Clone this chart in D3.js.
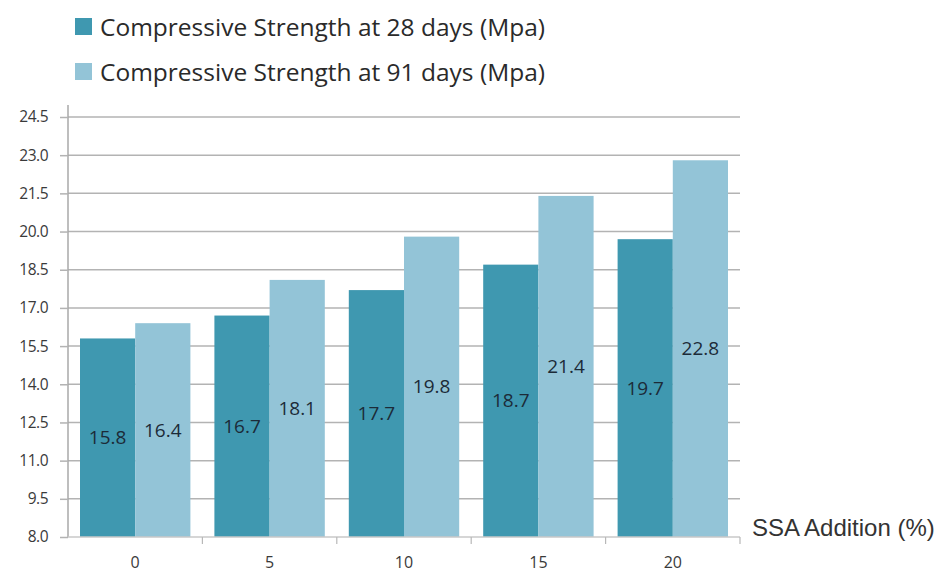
<!DOCTYPE html>
<html>
<head>
<meta charset="utf-8">
<script src="https://cdn.jsdelivr.net/npm/d3@7"></script>
<style>
  html, body { margin: 0; padding: 0; background: #fff; }
  svg { display: block; }
</style>
</head>
<body>
<svg id="chart" width="941" height="572"></svg>
<script>
// SSA addition levels and measured compressive strengths
const categories = ["0", "5", "10", "15", "20"];
const seriesNames = ["Compressive Strength at 28 days (Mpa)", "Compressive Strength at 91 days (Mpa)"];
const strength28 = [15.8, 16.7, 17.7, 18.7, 19.7];
const strength91 = [16.4, 18.1, 19.8, 21.4, 22.8];
const yTicks = [8.0, 9.5, 11.0, 12.5, 14.0, 15.5, 17.0, 18.5, 20.0, 21.5, 23.0, 24.5];
const colors = ["#3f98b0", "#93c4d7"];

const svg = d3.select("#chart");
const plot = { left: 68, right: 740, top: 117, bottom: 537 };

const x = d3.scaleBand().domain(categories).range([plot.left, plot.right]).paddingInner(0).paddingOuter(0);
const xInner = d3.scaleBand().domain([0, 1]).range([12, x.bandwidth() - 12]).padding(0);
const y = d3.scaleLinear().domain([8, 24.5]).range([plot.bottom, plot.top]);

// horizontal gridlines
svg.append("g")
  .selectAll("line")
  .data(yTicks.slice(1))
  .join("line")
  .attr("x1", plot.left)
  .attr("x2", plot.right)
  .attr("y1", d => y(d))
  .attr("y2", d => y(d))
  .attr("stroke", "#b3b3b3")
  .attr("stroke-width", 1.5);

// bars
const data = categories.map((c, i) => ({ c, vals: [strength28[i], strength91[i]] }));
const groups = svg.append("g")
  .selectAll("g")
  .data(data)
  .join("g")
  .attr("transform", d => `translate(${x(d.c)},0)`);

groups.selectAll("rect")
  .data(d => d.vals.map((v, k) => ({ v, k })))
  .join("rect")
  .attr("x", d => xInner(d.k))
  .attr("width", xInner.bandwidth())
  .attr("y", d => y(d.v))
  .attr("height", d => y(8) - y(d.v))
  .attr("fill", d => colors[d.k]);

groups.selectAll("text")
  .data(d => d.vals.map((v, k) => ({ v, k })))
  .join("text")
  .attr("x", d => xInner(d.k) + xInner.bandwidth() / 2)
  .attr("y", d => (y(d.v) + y(8)) / 2)
  .attr("dy", "0.35em")
  .attr("text-anchor", "middle")
  .attr("font-family", "'Open Sans', sans-serif")
  .attr("font-size", 19)
  .attr("fill", "#1c2b38")
  .text(d => d.v.toFixed(1));

// y axis
const yAxis = svg.append("g")
  .attr("transform", `translate(${plot.left},0)`)
  .call(d3.axisLeft(y).tickValues(yTicks).tickFormat(d3.format(".1f")).tickSize(8).tickPadding(12));
yAxis.select(".domain").attr("stroke", "#a8a8a8").attr("stroke-width", 1.5)
  .attr("d", `M0,${plot.bottom}V${plot.top - 12}`);
yAxis.selectAll(".tick line").attr("stroke", "#b3b3b3").attr("stroke-width", 1.5);
yAxis.selectAll(".tick text")
  .attr("font-family", "'Open Sans', sans-serif")
  .attr("font-size", 15.5)
  .attr("letter-spacing", "-0.5px")
  .attr("fill", "#3a3a3a");

// x axis
const xAxis = svg.append("g")
  .attr("transform", `translate(0,${plot.bottom})`)
  .call(d3.axisBottom(x).tickSize(0).tickPadding(20));
xAxis.select(".domain").attr("stroke", "#c8c8c8").attr("stroke-width", 1.5)
  .attr("d", `M${plot.left},0H${plot.right}`);
xAxis.selectAll(".tick text")
  .attr("font-family", "'Open Sans', sans-serif")
  .attr("font-size", 16)
  .attr("fill", "#3a3a3a");
// category boundary ticks
svg.append("g")
  .selectAll("line")
  .data(categories.slice(1).concat(["end"]))
  .join("line")
  .attr("x1", (d, i) => plot.left + x.step() * (i + 1))
  .attr("x2", (d, i) => plot.left + x.step() * (i + 1))
  .attr("y1", plot.bottom)
  .attr("y2", plot.bottom + 7)
  .attr("stroke", "#b8b8b8")
  .attr("stroke-width", 1.2);

// x axis title
svg.append("text")
  .attr("x", 752)
  .attr("y", 536)
  .attr("font-family", "'Liberation Sans', Arial, sans-serif")
  .attr("font-size", 24)
  .attr("fill", "#333")
  .text("SSA Addition (%)");

// legend
const legend = svg.append("g");
seriesNames.forEach((name, i) => {
  const base = 36 + i * 45;
  legend.append("rect")
    .attr("x", 75).attr("y", base - 18)
    .attr("width", 17).attr("height", 17)
    .attr("fill", colors[i]);
  legend.append("text")
    .attr("x", 100).attr("y", base)
    .attr("font-family", "'Open Sans', sans-serif")
    .attr("font-size", 24.5)
    .attr("fill", "#2a2a2a")
    .text(name);
});
</script>
</body>
</html>
